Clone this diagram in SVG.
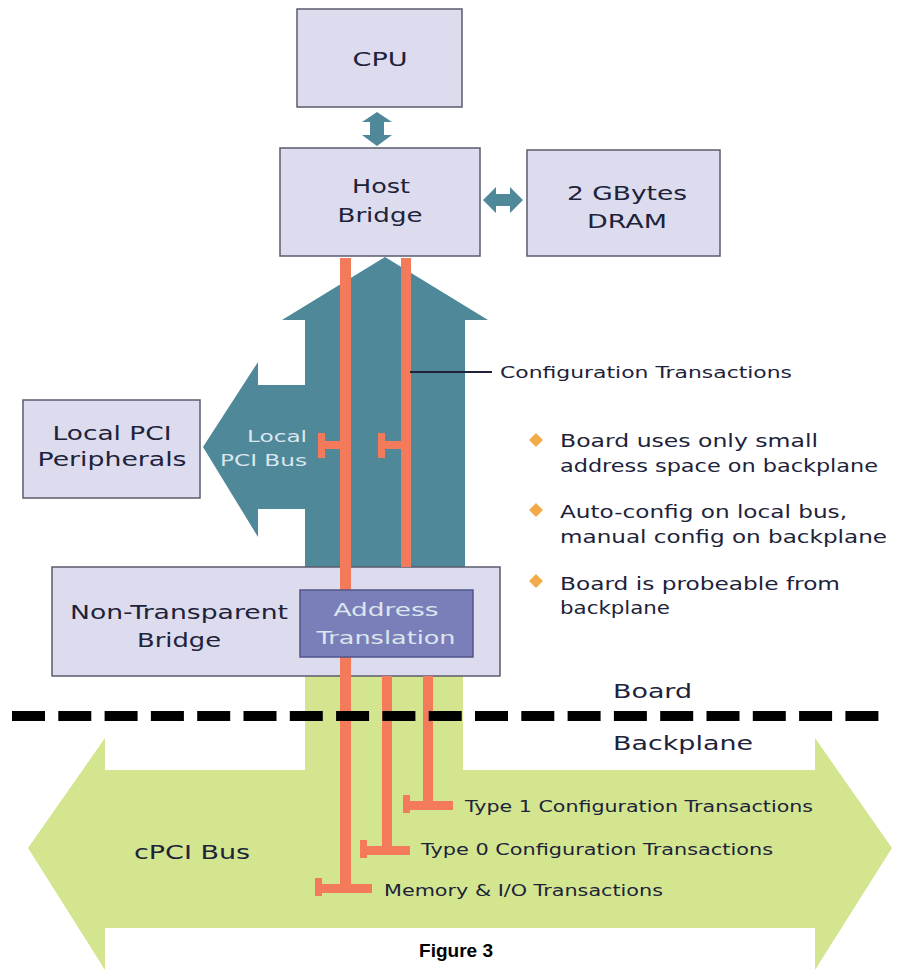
<svg xmlns="http://www.w3.org/2000/svg" width="912" height="979" viewBox="0 0 912 979">
<defs>
<style>
.box{fill:#dcdcee;stroke:#5a5b6c;stroke-width:1.5}
.t{font-family:"DejaVu Sans","Liberation Sans",sans-serif;fill:#20223a;text-anchor:middle}
.tl{font-family:"DejaVu Sans","Liberation Sans",sans-serif;fill:#20223a}
.red{fill:#f47a5c}
.teal{fill:#4e8899}
.wt{font-family:"DejaVu Sans","Liberation Sans",sans-serif;fill:#dbe6ee}
</style>
</defs>
<rect width="912" height="979" fill="#ffffff"/>

<g id="cpu">
<rect class="box" x="297" y="9" width="165" height="98"/>
<text class="t" x="380" y="66" font-size="20" textLength="55" lengthAdjust="spacingAndGlyphs">CPU</text>
</g>
<g id="host-bridge">
<rect class="box" x="280" y="148" width="200" height="108"/>
<text class="t" x="381" y="193" font-size="19" textLength="58" lengthAdjust="spacingAndGlyphs">Host</text>
<text class="t" x="380" y="222" font-size="19" textLength="85" lengthAdjust="spacingAndGlyphs">Bridge</text>
</g>
<g id="dram">
<rect class="box" x="527" y="150" width="193" height="106"/>
<text class="t" x="627" y="200" font-size="19" textLength="120" lengthAdjust="spacingAndGlyphs">2 GBytes</text>
<text class="t" x="627" y="228" font-size="19" textLength="80" lengthAdjust="spacingAndGlyphs">DRAM</text>
</g>

<g id="connectors">
<path class="teal" d="M377,112 L392,122 L384,122 L384,135 L392,135 L377,146 L362,135 L370,135 L370,122 L362,122 Z"/>
<path class="teal" d="M483,200 L496,187 L496,194 L510,194 L510,187 L523,200 L510,213 L510,206 L496,206 L496,213 Z"/>
</g>

<g id="local-pci-bus">
<path class="teal" d="M385,257 L488,320 L465,320 L465,567 L305,567 L305,509 L258,509 L258,537 L203,447 L258,362 L258,385 L305,385 L305,320 L282,320 Z"/>
<text class="wt" x="307" y="442" font-size="16" text-anchor="end" textLength="60" lengthAdjust="spacingAndGlyphs">Local</text>
<text class="wt" x="307" y="466" font-size="16" text-anchor="end" textLength="87" lengthAdjust="spacingAndGlyphs">PCI Bus</text>
</g>

<g id="cpci-bus">
<path fill="#d3e68f" d="M305,676 L463,676 L463,770 L815,770 L815,738 L892,848 L815,970 L815,928 L105,928 L105,970 L28,848 L105,738 L105,770 L305,770 Z"/>
<text class="t" x="192" y="859" font-size="20" textLength="116" lengthAdjust="spacingAndGlyphs">cPCI Bus</text>
</g>

<g id="local-pci-peripherals">
<rect class="box" x="23" y="400" width="177" height="98"/>
<text class="t" x="112" y="440" font-size="19" textLength="119" lengthAdjust="spacingAndGlyphs">Local PCI</text>
<text class="t" x="112" y="466" font-size="19" textLength="149" lengthAdjust="spacingAndGlyphs">Peripherals</text>
</g>

<g id="nt-bridge">
<rect class="box" x="52" y="567" width="448" height="109"/>
<text class="t" x="179" y="619" font-size="19" textLength="218" lengthAdjust="spacingAndGlyphs">Non-Transparent</text>
<text class="t" x="179" y="647" font-size="19" textLength="84" lengthAdjust="spacingAndGlyphs">Bridge</text>
</g>

<g id="transactions">
<rect class="red" x="340" y="258" width="11" height="632"/>
<rect class="red" x="401" y="258" width="10" height="309"/>
<rect class="red" x="318" y="441" width="28" height="8"/>
<rect class="red" x="318" y="433" width="7" height="25"/>
<rect class="red" x="378" y="441" width="28" height="8"/>
<rect class="red" x="378" y="433" width="7" height="25"/>
<rect class="red" x="382" y="676" width="10" height="176"/>
<rect class="red" x="423" y="676" width="10" height="131"/>
<rect class="red" x="403" y="801" width="50" height="9"/>
<rect class="red" x="403" y="795" width="7" height="18"/>
<rect class="red" x="360" y="846" width="50" height="9"/>
<rect class="red" x="360" y="840" width="7" height="18"/>
<rect class="red" x="315" y="884" width="57" height="9"/>
<rect class="red" x="315" y="878" width="7" height="18"/>
</g>

<g id="address-translation">
<rect x="300" y="590" width="173" height="67" fill="#7b7fb9" stroke="#50558a" stroke-width="1.5"/>
<text class="wt" x="386" y="616" font-size="18" text-anchor="middle" textLength="105" lengthAdjust="spacingAndGlyphs">Address</text>
<text class="wt" x="386" y="644" font-size="18" text-anchor="middle" textLength="139" lengthAdjust="spacingAndGlyphs">Translation</text>
</g>

<g id="config-label">
<line x1="410" y1="372" x2="492" y2="372" stroke="#20223a" stroke-width="2"/>
<text class="tl" x="500" y="378" font-size="15" textLength="292" lengthAdjust="spacingAndGlyphs">Configuration Transactions</text>
</g>

<g id="notes">
<path fill="#f3aa4a" d="M536,433 L543,440 L536,447 L529,440 Z"/>
<path fill="#f3aa4a" d="M536,503 L543,510 L536,517 L529,510 Z"/>
<path fill="#f3aa4a" d="M536,574 L543,581 L536,588 L529,581 Z"/>
<text class="tl" x="560" y="447" font-size="17" textLength="258" lengthAdjust="spacingAndGlyphs">Board uses only small</text>
<text class="tl" x="560" y="472" font-size="17" textLength="318" lengthAdjust="spacingAndGlyphs">address space on backplane</text>
<text class="tl" x="560" y="518" font-size="17" textLength="287" lengthAdjust="spacingAndGlyphs">Auto-config on local bus,</text>
<text class="tl" x="560" y="543" font-size="17" textLength="327" lengthAdjust="spacingAndGlyphs">manual config on backplane</text>
<text class="tl" x="560" y="590" font-size="17" textLength="280" lengthAdjust="spacingAndGlyphs">Board is probeable from</text>
<text class="tl" x="560" y="614" font-size="17" textLength="110" lengthAdjust="spacingAndGlyphs">backplane</text>
</g>

<g id="boundary">
<line x1="12" y1="716" x2="880" y2="716" stroke="#000000" stroke-width="10" stroke-dasharray="33 13.3"/>
<text class="tl" x="613" y="698" font-size="19" textLength="79" lengthAdjust="spacingAndGlyphs">Board</text>
<text class="tl" x="613" y="750" font-size="19" textLength="140" lengthAdjust="spacingAndGlyphs">Backplane</text>
</g>

<g id="transaction-labels">
<text class="tl" x="465" y="812" font-size="15" textLength="348" lengthAdjust="spacingAndGlyphs">Type 1 Configuration Transactions</text>
<text class="tl" x="421" y="855" font-size="15" textLength="352" lengthAdjust="spacingAndGlyphs">Type 0 Configuration Transactions</text>
<text class="tl" x="384" y="896" font-size="15" textLength="279" lengthAdjust="spacingAndGlyphs">Memory &amp; I/O Transactions</text>
</g>

<text x="456" y="957" font-family="Liberation Sans, Arial, sans-serif" font-weight="bold" font-size="19" text-anchor="middle" fill="#000000">Figure 3</text>
</svg>
